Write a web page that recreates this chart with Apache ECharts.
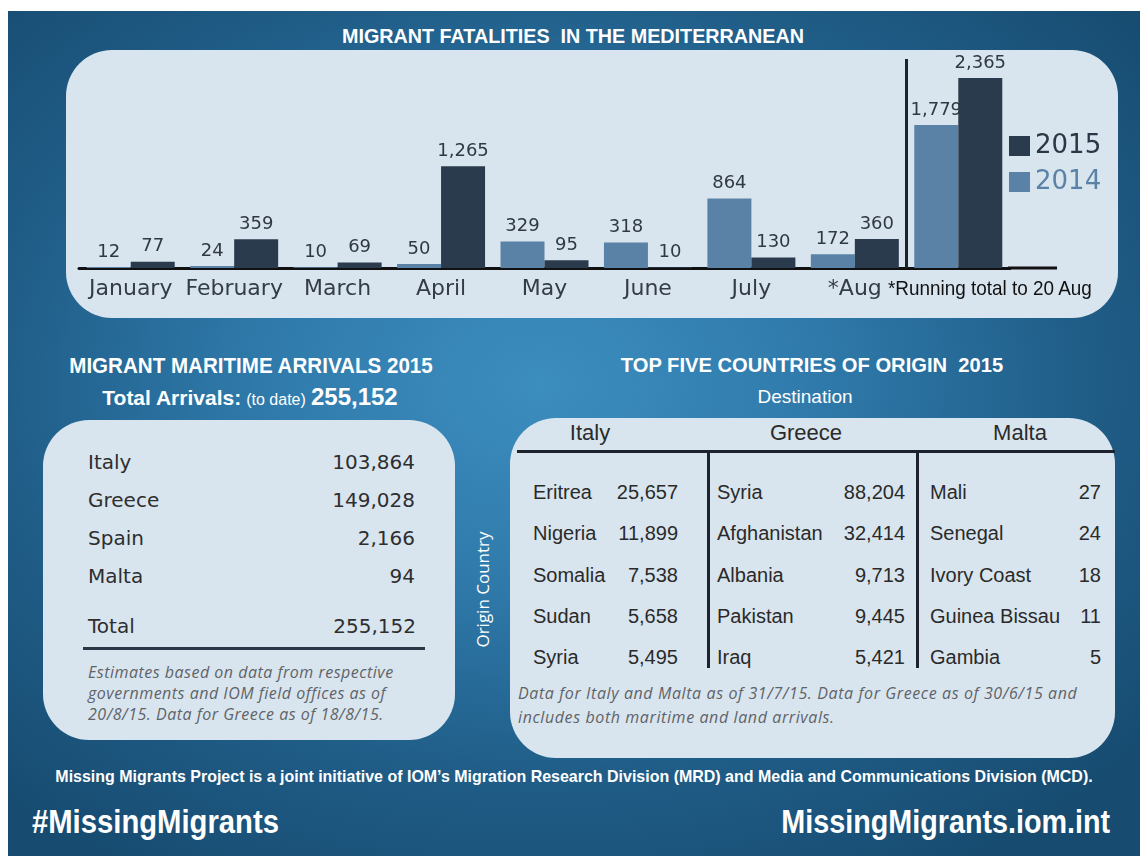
<!DOCTYPE html>
<html>
<head>
<meta charset="utf-8">
<script src="https://cdn.jsdelivr.net/npm/echarts@6/dist/echarts.min.js"></script>
<style>
html,body{margin:0;padding:0;}
body{width:1140px;height:856px;position:relative;overflow:hidden;background:#fff;
  font-family:"DejaVu Sans",sans-serif;}
#bg{position:absolute;left:8px;top:11px;right:0;bottom:0;
  background:radial-gradient(ellipse 70% 68% at 47% 44%, #3c8ebf 0%, #2f7aab 35%, #1f5c86 70%, #174b70 100%);}
.t{position:absolute;white-space:pre;}
.panel{position:absolute;background:#d9e5ee;border-radius:46px;}
.head{font-family:"Liberation Sans",sans-serif;font-weight:bold;color:#fff;font-size:21px;}
.narrow{font-family:"Liberation Sans",sans-serif;}
.note{font-family:"Open Sans",sans-serif;font-style:italic;color:#5f6368;font-size:16px;}
.bar{position:absolute;background:#2b3747;}
#fatalChart{position:absolute;left:0;top:0;width:1140px;height:330px;}
</style>
</head>
<body>
<div id="bg"></div>
<div class="t head" style="left:0;width:1146px;text-align:center;top:24px;transform:scaleX(0.94);">MIGRANT FATALITIES  IN THE MEDITERRANEAN</div>
<div class="panel" style="left:66px;top:50px;width:1052px;height:268px;"></div>
<div id="fatalChart"></div>
<div class="t narrow" style="left:888px;top:276px;color:#111;font-size:21px;transform:scaleX(0.9);transform-origin:0 50%;">*Running total to 20 Aug</div>

<div class="t head" style="left:51px;width:400px;text-align:center;top:353px;font-size:22px;transform:scaleX(0.935);">MIGRANT MARITIME ARRIVALS 2015</div>
<div class="t" style="left:50px;width:400px;text-align:center;top:383px;color:#fff;" id="totalLine"></div>
<div class="panel" style="left:43px;top:420px;width:412px;height:320px;"></div>

<div class="t head" style="left:612px;width:400px;text-align:center;top:353px;font-size:21px;transform:scaleX(0.96);">TOP FIVE COUNTRIES OF ORIGIN  2015</div>
<div class="t narrow" style="left:705px;width:200px;text-align:center;top:386px;color:#fff;font-size:19px;">Destination</div>
<div class="t" style="left:412px;width:140px;text-align:center;top:578px;color:#fff;font-size:17px;font-family:'Open Sans',sans-serif;transform:rotate(-90deg);">Origin Country</div>
<div class="panel" style="left:510px;top:418px;width:605px;height:340px;"></div>

<div class="t narrow" style="left:0;width:1148px;text-align:center;top:767px;color:#fff;font-weight:bold;font-size:17px;transform:scaleX(0.94);">Missing Migrants Project is a joint initiative of IOM’s Migration Research Division (MRD) and Media and Communications Division (MCD).</div>
<div class="t narrow" style="left:32px;top:802px;color:#fff;font-weight:bold;font-size:34px;transform:scaleX(0.86);transform-origin:0 50%;">#MissingMigrants</div>
<div class="t narrow" style="right:30px;top:802px;color:#fff;font-weight:bold;font-size:34px;transform:scaleX(0.845);transform-origin:100% 50%;">MissingMigrants.iom.int</div>

<script>
// fatalities chart data
var months = ['January', 'February', 'March', 'April', 'May', 'June', 'July', '*Aug', ''];
var fatal2014 = [12, 24, 10, 50, 329, 318, 864, 172, 1779];
var fatal2015 = [77, 359, 69, 1265, 95, 10, 130, 360, 2365];

// maritime arrivals 2015
var arrivalCountries = ['Italy', 'Greece', 'Spain', 'Malta'];
var arrivalValues = [103864, 149028, 2166, 94];
var arrivalTotal = 255152;

// top five countries of origin
var destinations = ['Italy', 'Greece', 'Malta'];
var italyOrigins = ['Eritrea', 'Nigeria', 'Somalia', 'Sudan', 'Syria'];
var italyValues = [25657, 11899, 7538, 5658, 5495];
var greeceOrigins = ['Syria', 'Afghanistan', 'Albania', 'Pakistan', 'Iraq'];
var greeceValues = [88204, 32414, 9713, 9445, 5421];
var maltaOrigins = ['Mali', 'Senegal', 'Ivory Coast', 'Guinea Bissau', 'Gambia'];
var maltaValues = [27, 24, 18, 11, 5];

function fmt(v) {
  return String(v).replace(/\B(?=(\d{3})+(?!\d))/g, ',');
}

function put(txt, x, y, style, right) {
  var d = document.createElement('div');
  d.className = 't';
  d.textContent = txt;
  d.style.cssText += 'top:' + (y - 15) + 'px;line-height:30px;' + (right ? 'right:' + (1140 - x) + 'px;' : 'left:' + x + 'px;') + (style || '');
  document.body.appendChild(d);
  return d;
}

// total arrivals line
document.getElementById('totalLine').innerHTML =
  '<span class="narrow" style="font-weight:bold;font-size:21px;">Total Arrivals:</span> ' +
  '<span class="narrow" style="font-size:16px;">(to date)</span> ' +
  '<span class="narrow" style="font-weight:bold;font-size:24px;">' + fmt(arrivalTotal) + '</span>';

// left table
var leftStyle = 'color:#2e2e2e;font-size:20px;';
arrivalCountries.forEach(function (c, i) {
  var y = 462 + i * 38;
  put(c, 88, y, leftStyle);
  put(fmt(arrivalValues[i]), 415, y, leftStyle, true);
});
put('Total', 88, 626, leftStyle);
put(fmt(arrivalTotal), 416, 626, leftStyle, true);
var ln = document.createElement('div');
ln.className = 'bar';
ln.style.cssText = 'left:83px;top:647px;width:342px;height:3px;';
document.body.appendChild(ln);
var n1 = document.createElement('div');
n1.className = 't note';
n1.style.cssText = 'left:88px;top:662px;line-height:21px;letter-spacing:0.5px;';
n1.innerHTML = 'Estimates based on data from respective<br>governments and IOM field offices as of<br>20/8/15. Data for Greece as of 18/8/15.';
document.body.appendChild(n1);

// right table
var cols = [
  {name: 590, nameX: 533, valX: 678, names: italyOrigins, vals: italyValues},
  {name: 806, nameX: 717, valX: 905, names: greeceOrigins, vals: greeceValues},
  {name: 1020, nameX: 930, valX: 1101, names: maltaOrigins, vals: maltaValues}
];
var rightStyle = 'color:#2a2a2a;font-size:20px;font-family:"Liberation Sans",sans-serif;';
cols.forEach(function (col, k) {
  put(destinations[k], col.name - 60, 433, rightStyle + 'width:120px;text-align:center;font-size:22px;');
  col.names.forEach(function (nm, i) {
    var y = 492 + i * 41.3;
    put(nm, col.nameX, y, rightStyle);
    put(fmt(col.vals[i]), col.valX, y, rightStyle, true);
  });
});
[[517, 450, 598, 3], [707, 452, 3, 216], [916, 452, 3, 216]].forEach(function (r) {
  var b = document.createElement('div');
  b.className = 'bar';
  b.style.cssText = 'left:' + r[0] + 'px;top:' + r[1] + 'px;width:' + r[2] + 'px;height:' + r[3] + 'px;background:#1c232d;';
  document.body.appendChild(b);
});
var n2 = document.createElement('div');
n2.className = 't note';
n2.style.cssText = 'left:518px;top:681px;line-height:24px;letter-spacing:0.6px;';
n2.innerHTML = 'Data for Italy and Malta as of 31/7/15. Data for Greece as of 30/6/15 and<br>includes both maritime and land arrivals.';
document.body.appendChild(n2);

// fatalities bar chart
var chartDom = document.getElementById('fatalChart');
var myChart = echarts.init(chartDom);
var option = {
  animation: false,
  grid: {left: 79, right: 130, top: 59, bottom: 62},
  legend: {
    orient: 'vertical',
    left: 1004,
    top: 128,
    itemWidth: 21,
    itemHeight: 20,
    itemGap: 10,
    icon: 'rect',
    data: [
      {name: '2015', textStyle: {color: '#2b3747'}},
      {name: '2014', textStyle: {color: '#5a82a6'}}
    ],
    textStyle: {fontSize: 26, fontFamily: 'DejaVu Sans'}
  },
  xAxis: [
    {
      type: 'category',
      data: months,
      axisTick: {show: false},
      axisLine: {lineStyle: {color: '#111', width: 3}},
      axisLabel: {color: '#333c47', fontSize: 22, fontFamily: 'DejaVu Sans', margin: 10, interval: 0},
      splitLine: {show: false}
    },
    {
      // hidden helper axis counting category bands, used for the separator line
      type: 'value',
      min: 0,
      max: months.length,
      show: false
    }
  ],
  yAxis: {type: 'value', min: 0, max: 2600, show: false, splitLine: {show: false}},
  graphic: [
    {type: 'rect', shape: {x: 1008, y: 266.5, width: 49, height: 3}, style: {fill: '#111'}}
  ],
  series: [
    {
      name: '2014',
      type: 'bar',
      data: fatal2014,
      barWidth: 44,
      barGap: 0,
      itemStyle: {color: '#5a82a6'},
      label: {show: true, position: 'top', color: '#2f3844', fontSize: 18, fontFamily: 'DejaVu Sans', distance: 6,
        formatter: function (p) { return fmt(p.value); }}
    },
    {
      name: '2015',
      type: 'bar',
      data: fatal2015,
      barWidth: 44,
      barGap: 0,
      itemStyle: {color: '#2b3b4e'},
      label: {show: true, position: 'top', color: '#2f3844', fontSize: 18, fontFamily: 'DejaVu Sans', distance: 6,
        formatter: function (p) { return fmt(p.value); }}
    },
    {
      name: 'separator',
      type: 'line',
      xAxisIndex: 1,
      data: [],
      silent: true,
      markLine: {
        silent: true,
        symbol: 'none',
        label: {show: false},
        lineStyle: {color: '#1c232d', width: 3, type: 'solid'},
        data: [{xAxis: months.length - 1}]
      }
    }
  ]
};
option && myChart.setOption(option);
</script>
</body>
</html>
